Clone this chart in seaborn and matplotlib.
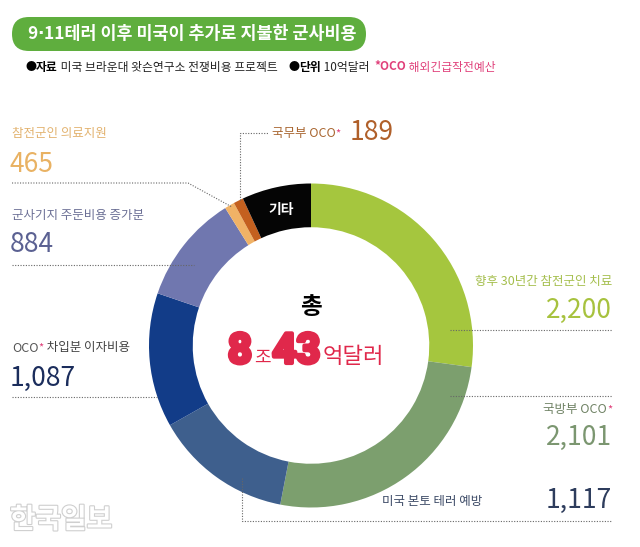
import matplotlib
matplotlib.use("Agg")
import matplotlib.pyplot as plt
import seaborn as sns
from matplotlib.patches import FancyBboxPatch
import matplotlib.patheffects as pe

# data (10억달러)
categories = ['향후 30년간 참전군인 치료', '국방부 OCO', '미국 본토 테러 예방', 'OCO 차입분 이자비용',
              '군사기지 주둔비용 증가분', '참전군인 의료지원', '국무부 OCO', '기타']
label_values = [2200, 2101, 1117, 1087, 884, 465, 189, None]
# wedge sizes as drawn in the original graphic (the two small slices are drawn narrower than their labels)
arc_values = [2200, 2101, 1117, 1087, 884, 80, 80, 560]
wedge_colors = ['#a5c63e', '#7c9f6e', '#3e5f8d', '#123c88', '#7077af', '#f0b266', '#c4601f', '#050505']

sns.set_theme(style='white')
plt.rcParams['font.family'] = ['Noto Sans CJK KR', 'DejaVu Sans']

W, H = 640, 547
fig = plt.figure(figsize=(W / 100, H / 100), dpi=100)
fig.patch.set_facecolor('white')

# pie axes: centre (311, 345.5), outer radius 162 px
cx, cy, R = 311, 345.5, 162
pax = fig.add_axes([(cx - R) / W, 1 - (cy + R) / H, 2 * R / W, 2 * R / H])
pax.pie(arc_values, colors=sns.color_palette(wedge_colors), startangle=90, counterclock=False,
        radius=1, wedgeprops=dict(width=0.27, linewidth=0))
pax.set_xlim(-1, 1)
pax.set_ylim(-1, 1)
pax.set_aspect('equal')
pax.axis('off')

# overlay axes in pixel coordinates
ax = fig.add_axes([0, 0, 1, 1], facecolor='none')
ax.set_xlim(0, W)
ax.set_ylim(H, 0)
ax.axis('off')
renderer = fig.canvas.get_renderer()

PINK = '#e0407a'
DOT = dict(color='#666666', lw=0.8, ls=(0, (1, 1.4)))


def chain(parts, x, y, ha='left', va='center', gap=0):
    """draw text pieces one after another, return the artists"""
    arts = []
    cur = x
    for s, kw in parts:
        t = ax.text(cur, y, s, ha='left', va=va, **kw)
        cur += t.get_window_extent(renderer).width + gap
        arts.append(t)
    if ha == 'right':
        shift = cur - x
        for t in arts:
            px, py = t.get_position()
            t.set_position((px - shift, py))
    return arts


# title pill
ax.add_patch(FancyBboxPatch((12, 17), 354, 34, boxstyle='round,pad=0,rounding_size=17',
                            fc='#5fae3e', ec='none'))
tkw = dict(color='white', fontsize=12.5, fontweight='bold')
chain([('9', tkw),
       ('·', dict(tkw, family=['DejaVu Sans'])),
       ('11테러 이후 미국이 추가로 지불한 군사비용', tkw)], 27, 34)

# source line
chain([('●', dict(fontsize=8, color='black')),
       ('자료', dict(fontsize=8.5, color='black', fontweight='bold')),
       (' 미국 브라운대 왓슨연구소 전쟁비용 프로젝트    ', dict(fontsize=8.5, color='#222222')),
       ('●', dict(fontsize=8, color='black')),
       ('단위', dict(fontsize=8.5, color='black', fontweight='bold')),
       (' 10억달러  ', dict(fontsize=8.5, color='#222222')),
       ('*OCO', dict(fontsize=8.5, color=PINK, fontweight='bold')),
       (' 해외긴급작전예산', dict(fontsize=8.5, color=PINK))], 25, 67)

small = 9
big = 19

# left labels
ax.text(12, 133, categories[5], color='#e2b26e', fontsize=small, va='center')
ax.text(10, 165, f'{label_values[5]:,}', color='#e9b263', fontsize=big, va='center')
ax.plot([12, 188, 232], [183, 183, 207], **DOT)

ax.text(12, 215, categories[4], color='#6b6f95', fontsize=small, va='center')
ax.text(10, 244, f'{label_values[4]:,}', color='#5b6192', fontsize=big, va='center')
ax.plot([12, 194], [265, 265], **DOT)

a = chain([('OCO', dict(fontsize=small, color='#555555'))], 12, 348)
xs = a[0].get_position()[0] + a[0].get_window_extent(renderer).width
ax.text(xs, 348, '*', fontsize=8, color=PINK, va='center', ha='left')
ax.text(xs + 5, 348, categories[3][3:], fontsize=small, color='#444444', va='center')
ax.text(10, 378, f'{label_values[3]:,}', color='#1b2d5c', fontsize=big, va='center')
ax.plot([12, 157], [397, 397], **DOT)

# top label
ax.plot([240, 240, 268], [200, 133, 133], **DOT)
t = ax.text(272, 133, categories[6], fontsize=small, color='#a8652f', va='center')
ax.text(272 + t.get_window_extent(renderer).width, 133, '*', fontsize=8, color=PINK, va='center')
ax.text(350, 133, f'{label_values[6]:,}', color='#b0602a', fontsize=big, va='center')
ax.text(281, 210, categories[7], color='white', fontsize=10, fontweight='bold', va='center', ha='center')

# right labels
ax.text(612, 282, categories[0], color='#a4be4c', fontsize=small, va='center', ha='right')
ax.text(612, 310, f'{label_values[0]:,}', color='#a7c23e', fontsize=big, va='center', ha='right')
ax.plot([450, 612], [330, 330], **DOT)

ax.plot([450, 612], [396, 396], **DOT)
ax.text(613, 410, '*', fontsize=8, color=PINK, va='center', ha='right')
ax.text(607, 410, categories[1], fontsize=small, color='#6f8264', va='center', ha='right')
ax.text(612, 437, f'{label_values[1]:,}', color='#7b9670', fontsize=big, va='center', ha='right')

ax.text(382, 502, categories[2], color='#3c4a66', fontsize=small, va='center')
ax.text(612, 500, f'{label_values[2]:,}', color='#2e3d5d', fontsize=big, va='center', ha='right')
ax.plot([242, 242, 612], [478, 521, 521], **DOT)

# centre total
RED = '#e0284b'
ax.text(311, 307, '총', ha='center', va='center', fontsize=17, fontweight='bold', color='black')
heavy = dict(fontsize=30, fontweight='bold', color=RED, family=['Roboto', 'DejaVu Sans'],
             path_effects=[pe.withStroke(linewidth=3, foreground=RED)])
chain([('8', heavy),
       ('조', dict(fontsize=13, color=RED)),
       ('43', heavy),
       ('억달러', dict(fontsize=16, color=RED))], 228, 363, va='baseline', gap=2)

# watermark
ax.text(10, 520, '한국일보', fontsize=20, fontweight='bold', color='white', va='center',
        path_effects=[pe.withStroke(linewidth=1.6, foreground='#cfcfcf')])

fig.savefig('out.png', dpi=100)
